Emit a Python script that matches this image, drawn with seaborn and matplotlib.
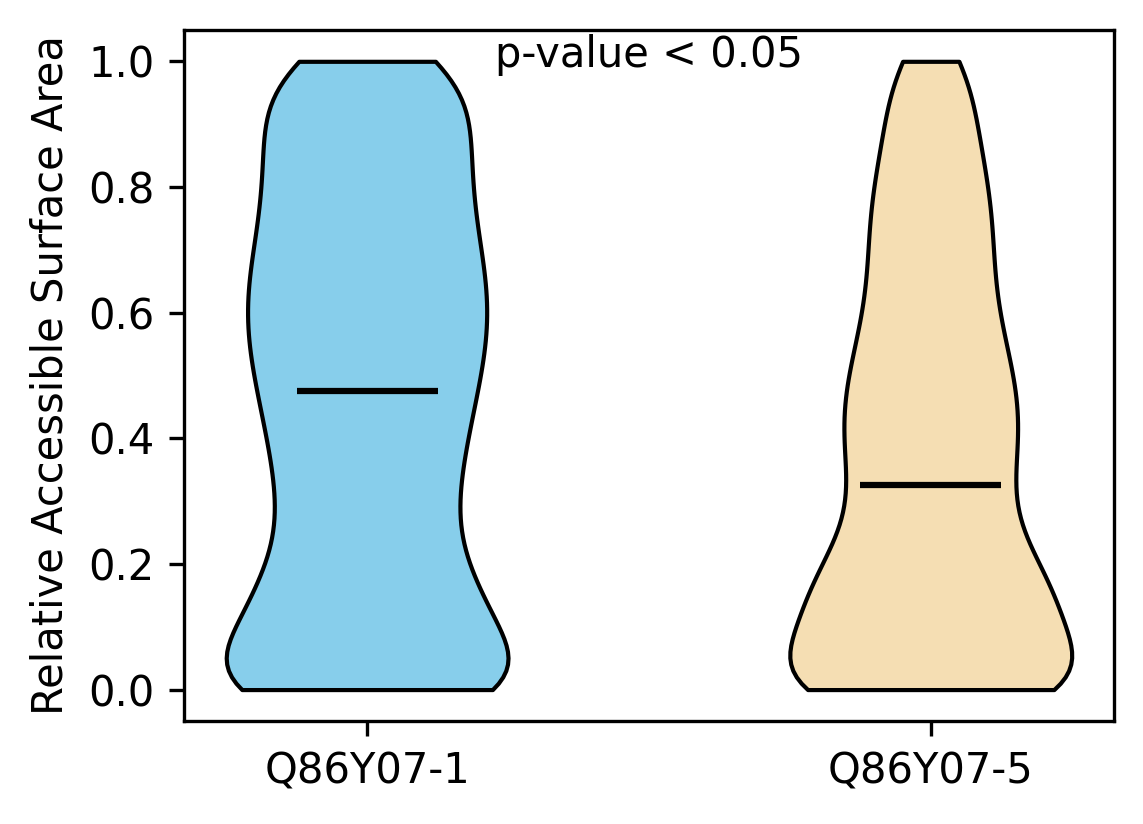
import numpy as np
import pandas as pd
import matplotlib
matplotlib.use("Agg")
import matplotlib.pyplot as plt
import seaborn as sns

# relative accessible surface area, binned, with residue counts per bin
rsa_bins = [0.00, 0.05, 0.10, 0.15, 0.20, 0.25, 0.30, 0.35, 0.40, 0.45, 0.50,
            0.55, 0.60, 0.65, 0.70, 0.75, 0.80, 0.85, 0.90, 0.95, 1.00]
isoforms = ["Q86Y07-1", "Q86Y07-5"]
counts_iso1 = [85, 32, 38, 36, 26, 25, 26, 27, 29, 31, 33,
               35, 36, 35, 33, 31, 30, 30, 30, 31, 31]
counts_iso5 = [160, 64, 80, 80, 64, 50, 45, 50, 53, 54, 49,
               45, 39, 37, 37, 37, 35, 30, 27, 25, 25]
colors = ["skyblue", "wheat"]
p_text = "p-value < 0.05"

df = pd.concat([
    pd.DataFrame({"isoform": iso, "rsa": np.repeat(rsa_bins, cnt)})
    for iso, cnt in zip(isoforms, [counts_iso1, counts_iso5])
])

fig, ax = plt.subplots(figsize=(3.813, 2.747), dpi=300)
fig.subplots_adjust(left=0.1608, right=0.9738, bottom=0.125, top=0.9636)

sns.violinplot(data=df, x="isoform", y="rsa", hue="isoform", order=isoforms,
               palette=colors, saturation=1, legend=False, inner=None, cut=0,
               width=0.5, density_norm="width", bw_method=0.22,
               linewidth=1, linecolor="black", ax=ax)

# median bars
for i, iso in enumerate(isoforms):
    med = np.median(df.loc[df.isoform == iso, "rsa"])
    ax.hlines(med, i - 0.125, i + 0.125, color="black", linewidth=1.5)

ax.text(0.5, 1.01, p_text, ha="center", va="center", fontsize=10)

ax.set_xlim(-0.325, 1.325)
ax.set_ylim(-0.05, 1.05)
ax.set_xlabel("")
ax.set_ylabel("Relative Accessible Surface Area")

fig.savefig("out.png", dpi=300)
